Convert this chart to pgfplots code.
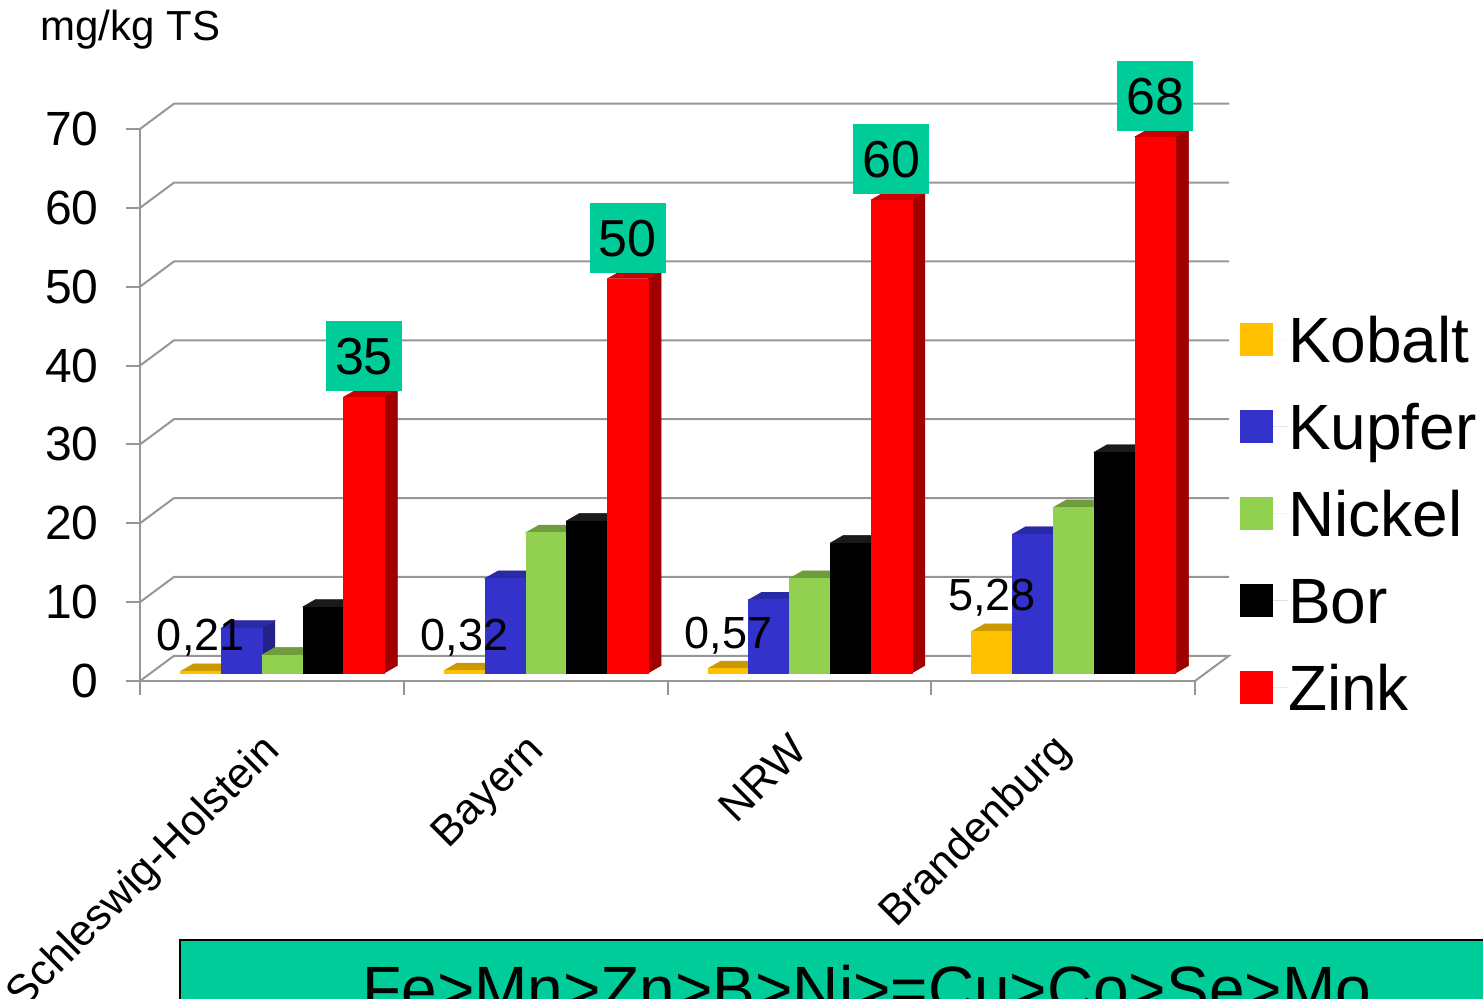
\documentclass[border=0pt]{standalone}
\usepackage{pgfplots}
\pgfplotsset{compat=1.18}
\usepackage{pgfplotstable}
\usepackage{fontspec}
\setmainfont{Liberation Sans}

% front / top / side shades of each series
\definecolor{c0F}{HTML}{FFC000}\definecolor{c0T}{HTML}{CC9900}\definecolor{c0S}{HTML}{A67C00}
\definecolor{c1F}{HTML}{3333CC}\definecolor{c1T}{HTML}{2A2AA6}\definecolor{c1S}{HTML}{222288}
\definecolor{c2F}{HTML}{92D050}\definecolor{c2T}{HTML}{6F9D3C}\definecolor{c2S}{HTML}{5C8232}
\definecolor{c3F}{HTML}{000000}\definecolor{c3T}{HTML}{1A1A1A}\definecolor{c3S}{HTML}{0D0D0D}
\definecolor{c4F}{HTML}{FF0000}\definecolor{c4T}{HTML}{CC0000}\definecolor{c4S}{HTML}{A00000}
\definecolor{boxgreen}{HTML}{00CC99}
\definecolor{wallgray}{HTML}{969696}

\newcommand\tickfont{\fontsize{24}{28}\selectfont}
\newcommand\smallval{\fontsize{22.5}{27}\selectfont}
\newcommand\bigval{\fontsize{26}{31}\selectfont}
\newcommand\catfont{\fontsize{21.6}{26}\selectfont}
\newcommand\legfont{\fontsize{32}{38}\selectfont}

\pgfplotstableread{
region Kobalt Kupfer Nickel Bor Zink
0 0.21 5.7 2.3 8.4 35
1 0.32 12.0 17.8 19.3 50
2 0.57 9.3 12.0 16.5 60
3 5.28 17.6 21.0 28.0 68
}\metals

% bar geometry in axis units
\def\bw{0.1547}   % bar width
\def\bx{-0.3469}  % left edge of the first bar, relative to the group centre
\def\bb{1.01}     % bar base, set back from the front edge
\def\dx{0.0493}   % bar depth, x
\def\dy{0.95}     % bar depth, y

\begin{document}
\begin{tikzpicture}
\useasboundingbox (-135.94pt,-159pt) rectangle (605.56pt,340.5pt);
\clip (-135.94pt,-159pt) rectangle (605.56pt,340.5pt);
\begin{axis}[
  anchor=origin, at={(0pt,0pt)},
  x=131.875pt, y=3.943pt,
  xmin=-0.5, xmax=3.5, ymin=0, ymax=70,
  clip=false,
  axis x line*=bottom, axis y line*=left,
  axis line style={wallgray, line width=1pt},
  tick style={wallgray, line width=1pt},
  tick align=outside, major tick length=7pt,
  xtick={-0.5,0.5,1.5,2.5,3.5}, xticklabels={},
  ytick={0,10,...,70},
  /pgf/number format/assume math mode=true,
  yticklabel style={font=\tickfont, inner sep=0pt, anchor=east, xshift=-13.5pt},
  legend style={draw=none, fill=none, inner sep=0pt, outer sep=0pt,
    at={(axis cs:3.6706,48.76)}, anchor=north west,
    font=\legfont, row sep=0pt,
    nodes={inner sep=0pt, text height=33.21pt, text depth=10.29pt}},
  legend cell align=left,
  legend image code/.code={\fill[#1] (0pt,-8.25pt) rectangle (16.5pt,8.25pt); \path (0pt,0pt) -- (24pt,0pt);},
]
\addlegendimage{fill=c0F, draw=none}\addlegendentry{Kobalt}
\addlegendimage{fill=c1F, draw=none}\addlegendentry{Kupfer}
\addlegendimage{fill=c2F, draw=none}\addlegendentry{Nickel}
\addlegendimage{fill=c3F, draw=none}\addlegendentry{Bor}
\addlegendimage{fill=c4F, draw=none}\addlegendentry{Zink}

% back wall and floor
\pgfplotsinvokeforeach{10,20,...,70}{
  \draw[wallgray, line width=1pt] (axis cs:-0.5,#1) -- (axis cs:-0.371,#1+3.2) -- (axis cs:3.629,#1+3.2);
}
\draw[wallgray, line width=1pt] (axis cs:-0.5,0) -- (axis cs:-0.371,3.2) -- (axis cs:3.629,3.2) -- (axis cs:3.5,0);

% bars: side, top and front face of each
\pgfplotsforeachungrouped \r in {0,1,2,3}{%
  \pgfplotsforeachungrouped \k in {0,1,2,3,4}{%
    \pgfmathtruncatemacro\col{\k+1}%
    \pgfplotstablegetelem{\r}{[index]\col}\of\metals
    \let\val\pgfplotsretval
    \pgfmathsetmacro\xl{\r+\bx+\k*\bw}%
    \pgfmathsetmacro\xr{\xl+\bw}%
    \pgfmathsetmacro\yt{\bb+\val}%
    \pgfmathsetmacro\xlb{\xl+\dx}%
    \pgfmathsetmacro\xrb{\xr+\dx}%
    \pgfmathsetmacro\ybb{\bb+\dy}%
    \pgfmathsetmacro\ytb{\yt+\dy}%
    \edef\drawbar{%
      \noexpand\addplot[forget plot, fill=c\k S, draw=c\k S, line width=0.2pt] coordinates {(\xr,\bb) (\xrb,\ybb) (\xrb,\ytb) (\xr,\yt)} -- cycle;
      \noexpand\addplot[forget plot, fill=c\k T, draw=c\k T, line width=0.2pt] coordinates {(\xl,\yt) (\xlb,\ytb) (\xrb,\ytb) (\xr,\yt)} -- cycle;
      \noexpand\addplot[forget plot, fill=c\k F, draw=c\k F, line width=0.2pt] coordinates {(\xl,\bb) (\xr,\bb) (\xr,\yt) (\xl,\yt)} -- cycle;
    }\drawbar
  }%
}

% value labels for Kobalt and Zink
\pgfplotsforeachungrouped \r in {0,1,2,3}{%
  \pgfplotstablegetelem{\r}{Kobalt}\of\metals
  \let\val\pgfplotsretval
  \pgfmathsetmacro\xc{\r+\bx+0.5*\bw}%
  \pgfmathsetmacro\yl{\bb+\val+\dy+1.65}%
  \pgfmathprintnumberto[assume math mode=true, fixed, fixed zerofill, precision=2, use comma]{\val}{\lbl}%
  \edef\drawlbl{\noexpand\node[anchor=base, inner sep=0pt, font=\noexpand\smallval] at (axis cs:\xc,\yl) {\lbl};}\drawlbl
  \pgfplotstablegetelem{\r}{Zink}\of\metals
  \let\val\pgfplotsretval
  \pgfmathsetmacro\xc{\r+\bx+4.5*\bw}%
  \pgfmathsetmacro\yl{\bb+\val+\dy-0.3}%
  \pgfmathprintnumberto[assume math mode=true, fixed, precision=0]{\val}{\lbl}%
  \edef\drawlbl{\noexpand\node[anchor=south, fill=boxgreen, inner sep=0pt, minimum width=38pt, minimum height=35pt, font=\noexpand\bigval] at (axis cs:\xc,\yl) {\lbl};}\drawlbl
}

% category names
\node[rotate=45, anchor=base east, inner sep=0pt, font=\catfont] at (axis cs:0.0375,-9.0) {Schleswig-Holstein};
\node[rotate=45, anchor=base east, inner sep=0pt, font=\catfont] at (axis cs:1.0375,-9.0) {Bayern};
\node[rotate=45, anchor=base east, inner sep=0pt, font=\catfont] at (axis cs:2.0375,-9.0) {NRW};
\node[rotate=45, anchor=base east, inner sep=0pt, font=\catfont] at (axis cs:3.0375,-9.0) {Brandenburg};

% unit
\node[anchor=base west, inner sep=0pt, font=\fontsize{21}{25}\selectfont] at (axis cs:-0.879,81.28) {mg/kg TS};

% order of the trace elements
\draw[fill=boxgreen, draw=black, line width=1pt] (axis cs:-0.3483,-32.84) rectangle (axis cs:4.8,-48);
\node[anchor=base west, inner sep=0pt, font=\legfont] at (axis cs:0.3417,-41.97) {Fe>Mn>Zn>B>Ni>=Cu>Co>Se>Mo};
\end{axis}
\end{tikzpicture}
\end{document}
